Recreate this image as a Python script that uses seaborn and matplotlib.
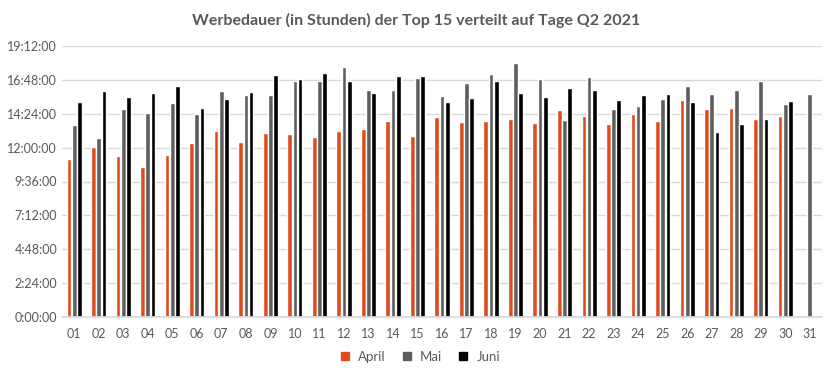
import numpy as np
import pandas as pd
import matplotlib.pyplot as plt
import seaborn as sns
from matplotlib.ticker import FuncFormatter, MultipleLocator

# Werbedauer pro Tag in Stunden
days = [f"{d:02d}" for d in range(1, 32)]
april = [11.19, 12.04, 11.40, 10.62, 11.47, 12.32, 13.17, 12.39, 13.03, 12.96,
         12.74, 13.17, 13.31, 13.88, 12.82, 14.16, 13.81, 13.88, 14.02, 13.74,
         14.66, 14.23, 13.67, 14.37, 13.88, 15.36, 14.73, 14.80, 14.02, 14.23, np.nan]
mai = [13.59, 12.67, 14.73, 14.44, 15.15, 14.37, 16.00, 15.72, 15.72, 16.71,
       16.71, 17.70, 16.07, 16.07, 16.92, 15.65, 16.57, 17.21, 17.98, 16.85,
       13.95, 16.99, 14.73, 14.94, 15.44, 16.36, 15.79, 16.07, 16.71, 15.08, 15.79]
juni = [15.22, 16.00, 15.58, 15.86, 16.36, 14.80, 15.44, 15.93, 17.13, 16.85,
        17.28, 16.71, 15.86, 17.06, 17.06, 15.22, 15.51, 16.71, 15.86, 15.58,
        16.21, 16.07, 15.36, 15.72, 15.79, 15.22, 13.10, 13.67, 14.02, 15.29, np.nan]

months = ["April", "Mai", "Juni"]
colors = ["#E04B1E", "#5E5E5E", "#000000"]

df = pd.DataFrame({"Tag": days * 3,
                   "Stunden": april + mai + juni,
                   "Monat": np.repeat(months, len(days))})

sns.set_theme(style="white")
plt.rcParams['font.family'] = ['Lato', 'DejaVu Sans']

fig = plt.figure(figsize=(8.32, 3.79), dpi=100)
ax = fig.add_axes([62 / 832, 62 / 379, 760 / 832, 271 / 379])

sns.barplot(data=df, x="Tag", y="Stunden", hue="Monat", hue_order=months,
            palette=colors, width=0.64, gap=0.1, ax=ax, saturation=1,
            legend=False)


def hms(v, pos):
    total = int(round(v * 3600))
    h, rem = divmod(total, 3600)
    m, s = divmod(rem, 60)
    return f"{h}:{m:02d}:{s:02d}"


ax.set_ylim(0, 19.2)
ax.yaxis.set_major_locator(MultipleLocator(2.4))
ax.yaxis.set_major_formatter(FuncFormatter(hms))
ax.set_xlim(-0.5, len(days) - 0.5)
ax.grid(axis="y", color="#D9D9D9", linewidth=1)
ax.set_axisbelow(True)
for side in ["top", "right", "left"]:
    ax.spines[side].set_visible(False)
ax.spines["bottom"].set_color("#D9D9D9")
ax.tick_params(axis="both", length=0, labelsize=9, colors="#595959")
ax.tick_params(axis="x", pad=8)
ax.set_xlabel("")
ax.set_ylabel("")

fig.suptitle("Werbedauer (in Stunden) der Top 15 verteilt auf Tage Q2 2021",
             x=0.5, y=0.965, fontsize=11.5, fontweight="bold", color="#595959")

handles = [plt.Line2D([], [], marker="s", linestyle="", color=c, markersize=6)
           for c in colors]
fig.legend(handles, months, loc="center", bbox_to_anchor=(0.5, 1 - 357 / 379),
           ncol=3, frameon=False, fontsize=9.5, handletextpad=0.0,
           columnspacing=0.6, labelcolor="#595959")

fig.savefig("out.png", dpi=100)
